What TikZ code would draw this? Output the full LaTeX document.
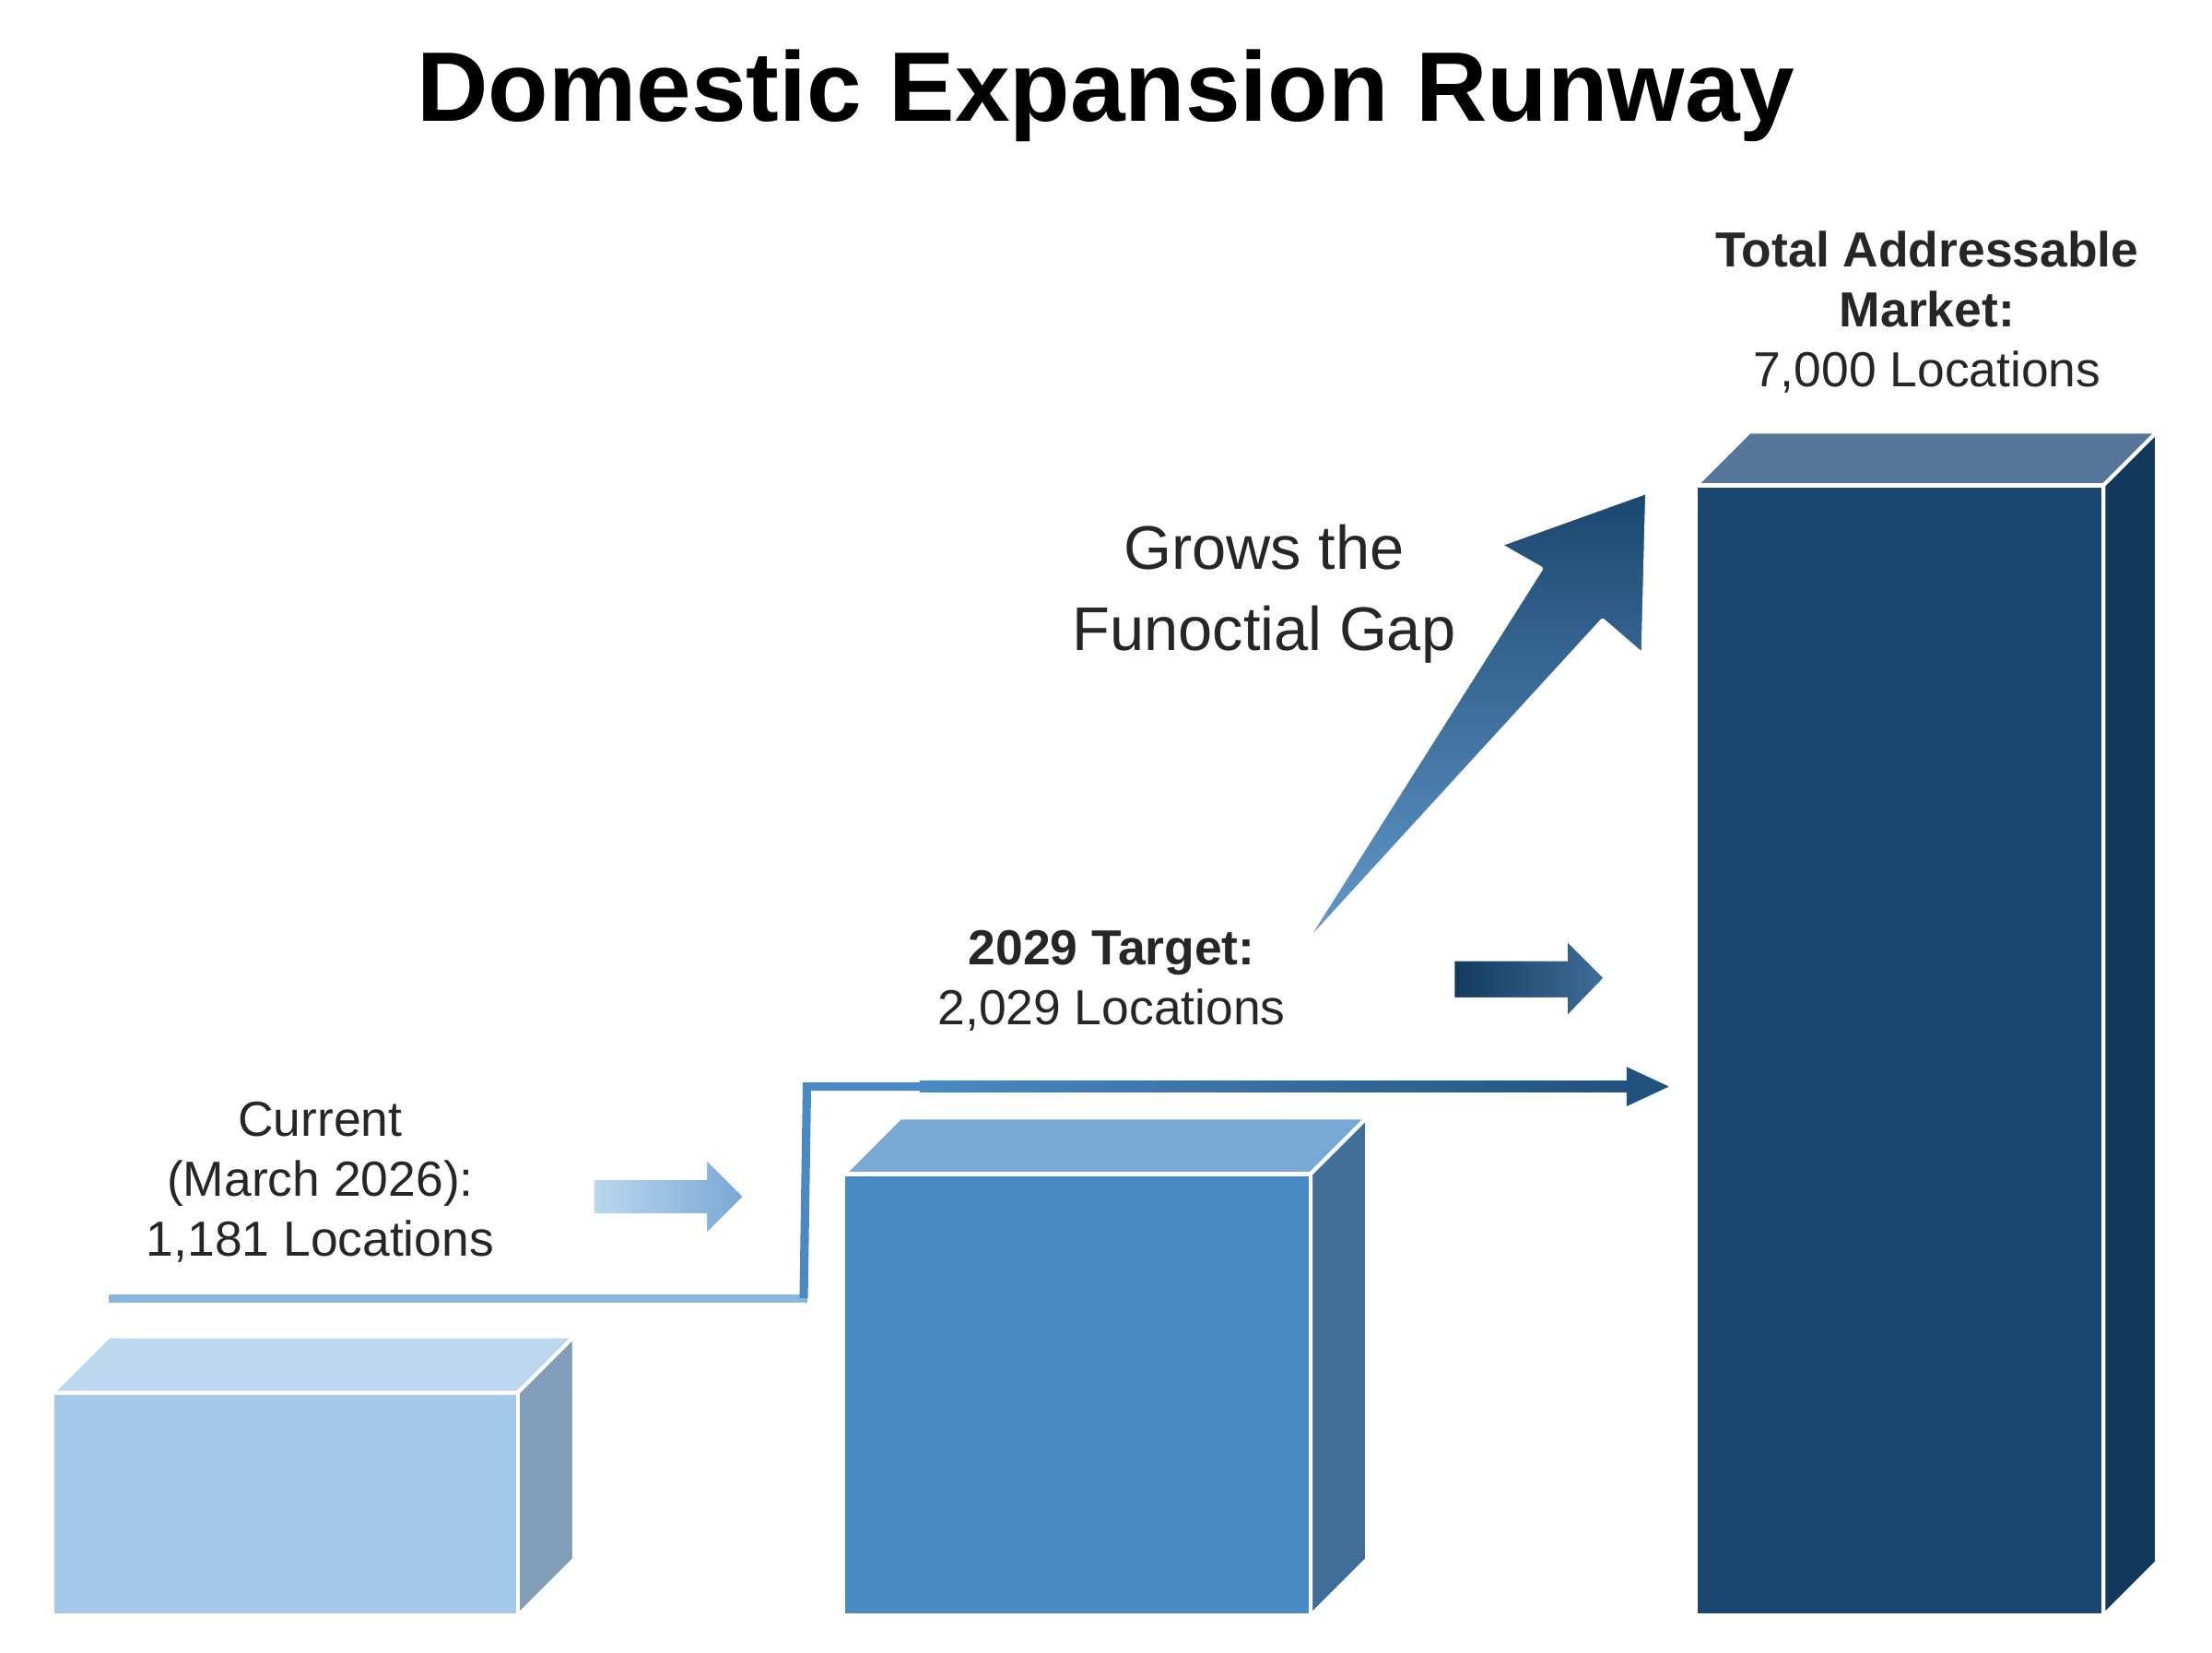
\documentclass[tikz,border=0pt]{standalone}
\usepackage{fontspec}
\setmainfont{Liberation Sans}
\begin{document}
\begin{tikzpicture}[x=0.015306cm,y=-0.015306cm,
  txt/.style={text=black!85,font=\fontsize{15.2}{18.5}\selectfont,align=center},
  edge/.style={draw=white,line width=1.2pt,line join=round}]
\definecolor{b1f}{HTML}{A5C8E8}\definecolor{b1t}{HTML}{BCD7EE}\definecolor{b1s}{HTML}{809EB8}
\definecolor{b2f}{HTML}{4A8AC4}\definecolor{b2t}{HTML}{78A8D4}\definecolor{b2s}{HTML}{3F6E99}
\definecolor{b3f}{HTML}{1A4770}\definecolor{b3t}{HTML}{56779A}\definecolor{b3s}{HTML}{133A5E}
\path[use as bounding box,fill=white] (0,0) rectangle (1568,1170.8);
\node[font=\bfseries\fontsize{30.5}{36}\selectfont] (title) at (784,68) {Domestic Expansion Runway};
% boxes
\newcommand\mybox[8]{%
 \fill[#6,edge] (#1,#3) -- ++(#5,-#5) -- (#2+#5,#3-#5) -- (#2,#3) -- cycle;
 \fill[#8,edge] (#2,#3) -- (#2+#5,#3-#5) -- (#2+#5,#4-#5) -- (#2,#4) -- cycle;
 \fill[#7,edge] (#1,#3) rectangle (#2,#4);}
\mybox{37}{367}{987}{1145}{40}{b1t}{b1f}{b1s}
\mybox{598}{929}{832}{1145}{40}{b2t}{b2f}{b2s}
\mybox{1202}{1491}{344}{1145}{38}{b3t}{b3f}{b3s}
% step line
\coordinate (s0) at (77,920); \coordinate (s1) at (572,920); \coordinate (s2) at (572,770); \coordinate (s3) at (1183,770);
\draw[line width=2.6pt,color=b1f!70!b2f] (s0) -- (s1);
\draw[line width=2.6pt,color=b2f,line join=miter] ([xshift=-1pt]s1) -- (s2) -- ++(82,0);
\shade[left color=b2f,right color=b3f!85!b2f] (652,766) rectangle (1160,774);
\fill[b3f!85!b2f] (1153,756) -- (s3) -- (1153,784) -- cycle;
% block arrows
\shade[left color=b1t,right color=b2t,draw=white,line width=1pt]
 (420,835) -- (500,835) -- (500,820) -- (528,848) -- (500,876) -- (500,861) -- (420,861) -- cycle;
\shade[left color=b3s,right color=b2s,draw=white,line width=1pt]
 (1030,680) -- (1110,680) -- (1110,665) -- (1138,693) -- (1110,722) -- (1110,708) -- (1030,708) -- cycle;
% diagonal arrow
\shade[bottom color=b2f!85!white,top color=b3f,draw=white,line width=1.5pt,line join=round]
 (918,678) -- (1092,403) -- (1062,386) -- (1168,348) -- (1165,465) -- (1136,440) -- cycle;
% texts
\node[txt,font=\fontsize{19}{25}\selectfont] (gap) at (896,421) {Grows the\\Funoctial Gap};
\node[txt] (t2029) at (788,695) {\textbf{2029 Target:}\\2,029 Locations};
\node[txt] (tcur) at (227,838) {Current\\(March 2026):\\1,181 Locations};
\node[txt] (ttam) at (1366,221) {\textbf{Total Addressable}\\\textbf{Market:}\\7,000 Locations};
\end{tikzpicture}
\end{document}
